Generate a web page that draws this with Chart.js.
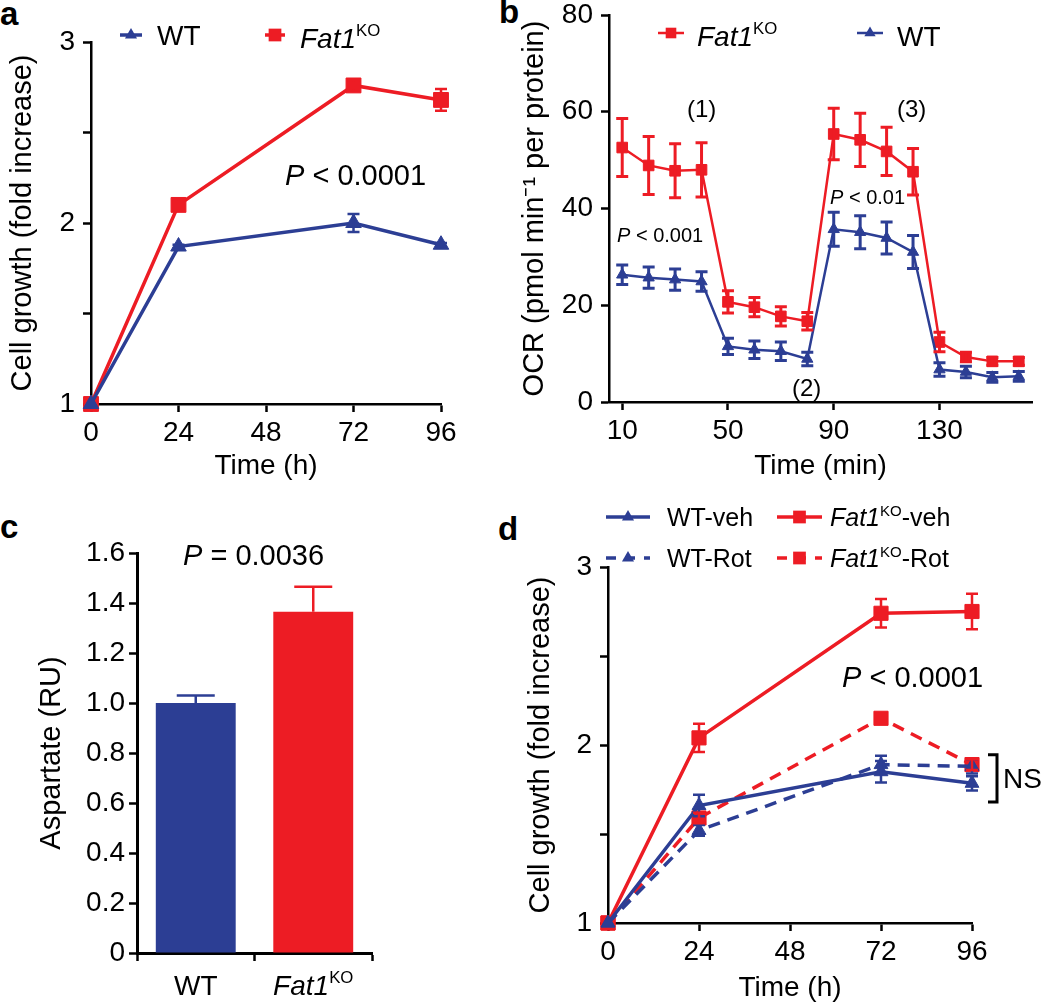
<!DOCTYPE html>
<html>
<head>
<meta charset="utf-8">
<script src="https://cdn.jsdelivr.net/npm/chart.js@4.4.1/dist/chart.umd.min.js"></script>
<style>
  body { margin: 0; background: #fff; width: 1050px; height: 1003px; position: relative; overflow: hidden; }
  canvas { position: absolute; }
  .tag { position: absolute; font: bold 33px "Liberation Sans", Arial, sans-serif; line-height: 33px; color: #000; }
</style>
</head>
<body>
<div class="tag" style="left:0px;top:-3px">a</div>
<div class="tag" style="left:499px;top:-5px">b</div>
<div class="tag" style="left:0px;top:510px">c</div>
<div class="tag" style="left:498px;top:512px">d</div>

<canvas id="chartA" width="470" height="480" style="left:0;top:0"></canvas>
<canvas id="chartB" width="530" height="480" style="left:520px;top:0"></canvas>
<canvas id="chartC" width="470" height="513" style="left:0;top:490px"></canvas>
<canvas id="chartD" width="530" height="513" style="left:520px;top:490px"></canvas>

<script>
// ---- data ----
// a: cell growth
const hoursA = [0, 24, 72, 96];
const wtA = [1.0, 1.87, 2.0, 1.88];
const wtAErr = [0, 0.01, 0.05, 0.01];
const koA = [1.0, 2.1, 2.76, 2.68];
const koAErr = [0, 0.03, 0.03, 0.06];

// b: OCR
const minutesB = [10, 20, 30, 40, 50, 60, 70, 80, 90, 100, 110, 120, 130, 140, 150, 160];
const koB = [52.6, 48.9, 47.8, 48.0, 20.7, 19.6, 17.7, 16.7, 55.4, 54.2, 51.8, 47.6, 12.4, 9.3, 8.4, 8.4];
const koBErr = [6, 6, 5.6, 5.6, 2.3, 2, 2, 1.8, 5.3, 5.5, 5, 4.8, 2, 1, 0.8, 0.8];
const wtB = [26.3, 25.7, 25.3, 24.9, 11.5, 10.8, 10.5, 8.9, 35.7, 35.1, 33.9, 31.0, 6.7, 6.2, 5.1, 5.3];
const wtBErr = [2, 2.2, 2.2, 2, 1.7, 1.8, 1.9, 1.4, 3.5, 3.4, 3.3, 3.4, 1.4, 1.2, 1, 1];
const ticksB = [10, 50, 90, 130];

// c: aspartate
const groupsC = ['WT', 'Fat1KO'];
const aspartate = [1.0, 1.365];
const aspartateErr = [0.03, 0.1];

// d: rotenone
const hoursD = [0, 24, 72, 96];
const wtVeh = [1.0, 1.66, 1.85, 1.785];
const wtVehErr = [0, 0.06, 0.06, 0.04];
const koVeh = [1.0, 2.04, 2.74, 2.75];
const koVehErr = [0, 0.08, 0.08, 0.1];
const wtRot = [1.0, 1.52, 1.89, 1.88];
const wtRotErr = [0, 0.03, 0.05, 0.04];
const koRot = [1.0, 1.59, 2.15, 1.89];
const koRotErr = [0, 0.03, 0.02, 0.03];

const hourTicks = [0, 24, 48, 72, 96];
const growthTicks = [1, 1.5, 2, 2.5, 3];

const BLUE = '#2c3e94';
const RED = '#ed1c24';
const FAMILY = '"Liberation Sans", Arial, Helvetica, sans-serif';

Chart.defaults.font.family = FAMILY;
Chart.defaults.color = '#000';

const xy = (xs, ys) => xs.map((x, i) => ({ x: x, y: ys[i] }));

// text with italic / superscript pieces
function rich(ctx, parts, x, cy, size, align) {
  const base = cy + size * 0.36;
  const fontOf = (p) => (p[1] === 'i' ? 'italic ' : '') + (p[1] === 's' ? size * 0.6 : size) + 'px ' + FAMILY;
  let total = 0;
  const widths = parts.map(p => { ctx.font = fontOf(p); const w = ctx.measureText(p[0]).width; total += w; return w; });
  let cx = align === 'center' ? x - total / 2 : x;
  ctx.save();
  ctx.fillStyle = '#000';
  ctx.textAlign = 'left';
  ctx.textBaseline = 'alphabetic';
  parts.forEach((p, i) => {
    ctx.font = fontOf(p);
    ctx.fillText(p[0], cx, p[1] === 's' ? base - size * 0.42 : base);
    cx += widths[i];
  });
  ctx.restore();
}

function marker(ctx, style, cx, cy, r) {
  ctx.beginPath();
  if (style === 'rect') {
    const s = r * Math.SQRT1_2;
    ctx.rect(cx - s, cy - s, 2 * s, 2 * s);
  } else {
    ctx.moveTo(cx, cy - r);
    ctx.lineTo(cx + r * 0.866, cy + r * 0.5);
    ctx.lineTo(cx - r * 0.866, cy + r * 0.5);
    ctx.closePath();
  }
  ctx.fill();
}

function legendItem(ctx, x1, x2, cy, color, style, r, lw, dash) {
  ctx.save();
  ctx.strokeStyle = color;
  ctx.fillStyle = color;
  ctx.lineWidth = lw;
  ctx.setLineDash(dash || []);
  ctx.beginPath();
  ctx.moveTo(x1, cy);
  ctx.lineTo(x2, cy);
  ctx.stroke();
  ctx.setLineDash([]);
  marker(ctx, style, (x1 + x2) / 2, cy, r);
  ctx.restore();
}

const errorBars = {
  id: 'errorBars',
  afterDatasetsDraw(chart) {
    const ctx = chart.ctx;
    chart.data.datasets.forEach((ds, di) => {
      if (!ds.errors) return;
      const meta = chart.getDatasetMeta(di);
      const ys = chart.scales[meta.yAxisID];
      ctx.save();
      ctx.strokeStyle = ds.borderColor;
      ctx.lineWidth = ds.errWidth || 2.5;
      ctx.setLineDash([]);
      meta.data.forEach((el, i) => {
        const e = ds.errors[i];
        if (!e) return;
        const v = typeof ds.data[i] === 'object' ? ds.data[i].y : ds.data[i];
        const top = ys.getPixelForValue(v + e);
        const bot = ds.upOnly ? el.y : ys.getPixelForValue(v - e);
        const w = ds.capW || 6;
        ctx.beginPath();
        ctx.moveTo(el.x, top); ctx.lineTo(el.x, bot);
        ctx.moveTo(el.x - w, top); ctx.lineTo(el.x + w, top);
        if (!ds.upOnly) { ctx.moveTo(el.x - w, bot); ctx.lineTo(el.x + w, bot); }
        ctx.stroke();
      });
      ctx.restore();
    });
  }
};

function axis(extra) {
  return Object.assign({
    grid: { drawOnChartArea: false, tickLength: 8, tickWidth: 2.5, tickColor: '#000' },
    border: { color: '#000', width: 2.5 },
    ticks: { font: { size: 28 }, color: '#000', maxRotation: 0, autoSkip: false }
  }, extra);
}

function setTicks(list) {
  return (s) => { s.ticks = list.map(v => ({ value: v })); };
}

function lineSet(label, xs, ys, errs, color, style, r, lw, dash, order) {
  return {
    label: label,
    data: xy(xs, ys),
    errors: errs,
    order: order || 0,
    borderColor: color,
    backgroundColor: color,
    pointBackgroundColor: color,
    pointBorderColor: color,
    pointBorderWidth: 1,
    pointStyle: style,
    pointRadius: r,
    borderWidth: lw,
    borderDash: dash || [],
    fill: false,
    tension: 0,
    clip: false,
    errWidth: lw < 3 ? 3 : 2.5,
    capW: 6
  };
}

const baseOpts = { responsive: false, animation: false, events: [] };

// ---- panel a ----
new Chart(document.getElementById('chartA'), {
  type: 'line',
  data: {
    datasets: [
      lineSet('WT', hoursA, wtA, wtAErr, BLUE, 'triangle', 9, 3.5, null, 0),
      lineSet('Fat1KO', hoursA, koA, koAErr, RED, 'rect', 10.5, 3.5, null, 1)
    ]
  },
  options: Object.assign({}, baseOpts, {
    layout: { padding: { left: 0, top: 42, right: 29, bottom: 0 } },
    plugins: { legend: { display: false }, tooltip: { enabled: false } },
    scales: {
      x: axis({
        type: 'linear', min: 0, max: 96,
        afterBuildTicks: setTicks(hourTicks),
        afterFit: s => { s.height = 76; },
        ticks: { font: { size: 28 }, color: '#000', maxRotation: 0, padding: 4 },
        title: { display: true, text: 'Time (h)', font: { size: 28, lineHeight: 1 }, padding: 0 }
      }),
      y: axis({
        type: 'linear', min: 1, max: 3,
        afterBuildTicks: setTicks(growthTicks),
        afterFit: s => { s.width = 91; },
        ticks: { font: { size: 28 }, color: '#000', padding: 8, callback: v => Number.isInteger(v) ? String(v) : '' },
        title: { display: true, text: 'Cell growth (fold increase)', font: { size: 29, lineHeight: 1 }, padding: { top: 8, bottom: 0 } }
      })
    }
  }),
  plugins: [errorBars, {
    id: 'notesA',
    afterDraw(chart) {
      const ctx = chart.ctx;
      legendItem(ctx, 120, 142, 35, BLUE, 'triangle', 7, 3.5);
      rich(ctx, [['WT', '']], 157, 35, 28);
      legendItem(ctx, 265, 285, 35, RED, 'rect', 9, 3.5);
      rich(ctx, [['Fat1', 'i'], ['KO', 's']], 300, 38, 28);
      rich(ctx, [['P', 'i'], [' < 0.0001', '']], 285, 175, 29);
    }
  }]
});

// ---- panel b ----
new Chart(document.getElementById('chartB'), {
  type: 'line',
  data: {
    datasets: [
      lineSet('WT', minutesB, wtB, wtBErr, BLUE, 'triangle', 6.5, 2.5),
      lineSet('Fat1KO', minutesB, koB, koBErr, RED, 'rect', 7.5, 2.5)
    ]
  },
  options: Object.assign({}, baseOpts, {
    layout: { padding: { left: 0, top: 15, right: 18, bottom: 0 } },
    plugins: { legend: { display: false }, tooltip: { enabled: false } },
    scales: {
      x: axis({
        type: 'linear', min: 5, max: 165,
        afterBuildTicks: setTicks(ticksB),
        afterFit: s => { s.height = 78; },
        ticks: { font: { size: 28 }, color: '#000', maxRotation: 0, padding: 4 },
        title: { display: true, text: 'Time (min)', font: { size: 28, lineHeight: 1 }, padding: 0 }
      }),
      y: axis({
        type: 'linear', min: 0, max: 80,
        ticks: { font: { size: 28 }, color: '#000', padding: 8, stepSize: 20 },
        afterFit: s => { s.width = 89; s.paddingTop = 0; s.paddingBottom = 0; },
        title: { display: true, text: 'OCR (pmol min\u207B\u00B9 per protein)', font: { size: 29, lineHeight: 1 }, padding: { top: 0, bottom: 0 } }
      })
    }
  }),
  plugins: [errorBars, {
    id: 'notesB',
    afterDraw(chart) {
      const ctx = chart.ctx;
      legendItem(ctx, 138, 164, 33, RED, 'rect', 7.5, 2.5);
      rich(ctx, [['Fat1', 'i'], ['KO', 's']], 177, 36, 28);
      legendItem(ctx, 337, 363, 33, BLUE, 'triangle', 6.5, 2.5);
      rich(ctx, [['WT', '']], 377, 36, 28);
      rich(ctx, [['(1)', '']], 167, 108, 24);
      rich(ctx, [['(3)', '']], 377, 108, 24);
      rich(ctx, [['(2)', '']], 272, 387, 24);
      rich(ctx, [['P', 'i'], [' < 0.001', '']], 97, 235, 20);
      rich(ctx, [['P', 'i'], [' < 0.01', '']], 310, 197, 20);
    }
  }]
});

// ---- panel c ----
new Chart(document.getElementById('chartC'), {
  type: 'bar',
  data: {
    labels: groupsC,
    datasets: [{
      data: aspartate,
      errors: aspartateErr,
      upOnly: true,
      backgroundColor: [BLUE, RED],
      borderColor: [BLUE, RED],
      borderWidth: 0,
      categoryPercentage: 1,
      barPercentage: 0.68,
      capW: 19,
      errWidth: 2.5
    }]
  },
  options: Object.assign({}, baseOpts, {
    layout: { padding: { left: 0, top: 63, right: 98, bottom: 0 } },
    plugins: { legend: { display: false }, tooltip: { enabled: false } },
    scales: {
      x: axis({
        border: { color: '#000', width: 3 },
        afterFit: s => { s.height = 50; },
        ticks: { font: { size: 28 }, color: '#000', callback: () => '' }
      }),
      y: axis({
        type: 'linear', min: 0, max: 1.6,
        border: { color: '#000', width: 3 },
        afterBuildTicks: setTicks([0, 0.2, 0.4, 0.6, 0.8, 1.0, 1.2, 1.4, 1.6]),
        afterFit: s => { s.width = 137; },
        ticks: { font: { size: 28 }, color: '#000', padding: 4, callback: v => v === 0 ? '0' : v.toFixed(1) },
        title: { display: true, text: 'Aspartate (RU)', font: { size: 29, lineHeight: 1 }, padding: { top: 37, bottom: 0 } }
      })
    }
  }),
  plugins: [{
    id: 'errC',
    afterDatasetsDraw(chart) {
      const ctx = chart.ctx;
      const ds = chart.data.datasets[0];
      const meta = chart.getDatasetMeta(0);
      const ys = chart.scales.y;
      meta.data.forEach((el, i) => {
        const top = ys.getPixelForValue(aspartate[i] + aspartateErr[i]);
        ctx.save();
        ctx.strokeStyle = ds.borderColor[i];
        ctx.lineWidth = ds.errWidth;
        ctx.beginPath();
        ctx.moveTo(el.x, el.y); ctx.lineTo(el.x, top);
        ctx.moveTo(el.x - ds.capW, top); ctx.lineTo(el.x + ds.capW, top);
        ctx.stroke();
        ctx.restore();
      });
    },
    afterDraw(chart) {
      const ctx = chart.ctx;
      const xs = chart.scales.x;
      rich(ctx, [['WT', '']], xs.getPixelForTick(0), 495, 28, 'center');
      rich(ctx, [['Fat1', 'i'], ['KO', 's']], xs.getPixelForTick(1), 495, 28, 'center');
      rich(ctx, [['P', 'i'], [' = 0.0036', '']], 183, 65, 29);
    }
  }]
});

// ---- panel d ----
new Chart(document.getElementById('chartD'), {
  type: 'line',
  data: {
    datasets: [
      lineSet('WT-veh', hoursD, wtVeh, wtVehErr, BLUE, 'triangle', 8, 3.5),
      lineSet('WT-Rot', hoursD, wtRot, wtRotErr, BLUE, 'triangle', 8, 3.5, [12, 8]),
      lineSet('Fat1KO-veh', hoursD, koVeh, koVehErr, RED, 'rect', 10, 3.5),
      lineSet('Fat1KO-Rot', hoursD, koRot, koRotErr, RED, 'rect', 10, 3.5, [12, 8])
    ]
  },
  options: Object.assign({}, baseOpts, {
    layout: { padding: { left: 0, top: 77, right: 78, bottom: 0 } },
    plugins: { legend: { display: false }, tooltip: { enabled: false } },
    scales: {
      x: axis({
        type: 'linear', min: 0, max: 96,
        afterBuildTicks: setTicks(hourTicks),
        afterFit: s => { s.height = 80; },
        ticks: { font: { size: 28 }, color: '#000', maxRotation: 0, padding: 4 },
        title: { display: true, text: 'Time (h)', font: { size: 28, lineHeight: 1 }, padding: { top: 0, bottom: 1 } }
      }),
      y: axis({
        type: 'linear', min: 1, max: 3,
        afterBuildTicks: setTicks(growthTicks),
        afterFit: s => { s.width = 88; },
        ticks: { font: { size: 28 }, color: '#000', padding: 8, callback: v => Number.isInteger(v) ? String(v) : '' },
        title: { display: true, text: 'Cell growth (fold increase)', font: { size: 29, lineHeight: 1 }, padding: { top: 6, bottom: 0 } }
      })
    }
  }),
  plugins: [errorBars, {
    id: 'notesD',
    afterDraw(chart) {
      const ctx = chart.ctx;
      legendItem(ctx, 86, 130, 27, BLUE, 'triangle', 7, 3.5);
      rich(ctx, [['WT-veh', '']], 147, 27, 25);
      legendItem(ctx, 257, 302, 27, RED, 'rect', 9, 3.5);
      rich(ctx, [['Fat1', 'i'], ['KO', 's'], ['-veh', '']], 310, 27, 25);
      legendItem(ctx, 86, 130, 68, BLUE, 'triangle', 7, 3.5, [10, 9]);
      rich(ctx, [['WT-Rot', '']], 147, 68, 25);
      legendItem(ctx, 257, 302, 68, RED, 'rect', 9, 3.5, [10, 9]);
      rich(ctx, [['Fat1', 'i'], ['KO', 's'], ['-Rot', '']], 310, 68, 25);
      rich(ctx, [['P', 'i'], [' < 0.0001', '']], 322, 187, 29);

      // NS bracket spanning the WT and Rot end points
      const ys = chart.scales.y;
      const t = ys.getPixelForValue(1.945), b = ys.getPixelForValue(1.68);
      ctx.save();
      ctx.strokeStyle = '#000';
      ctx.lineWidth = 3;
      ctx.beginPath();
      ctx.moveTo(468, t); ctx.lineTo(477, t); ctx.lineTo(477, b); ctx.lineTo(468, b);
      ctx.stroke();
      ctx.restore();
      rich(ctx, [['NS', '']], 483, (t + b) / 2, 28);
    }
  }]
});
</script>
</body>
</html>
